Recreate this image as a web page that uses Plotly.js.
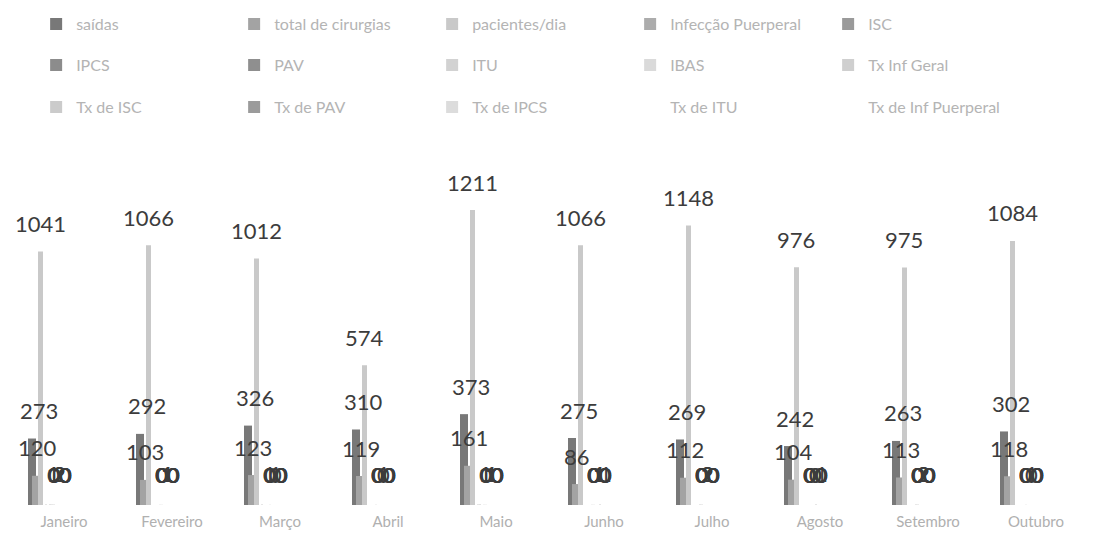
<!DOCTYPE html>
<html>
<head>
<meta charset="utf-8">
<script src="https://cdn.plot.ly/plotly-3.0.1.min.js"></script>
<style>html,body{margin:0;padding:0;background:#fff;}#chart{width:1095px;height:547px;}</style>
</head>
<body>
<div id="chart"></div>
<script>
// ---- data ----
const months = ['Janeiro','Fevereiro','Março','Abril','Maio','Junho','Julho','Agosto','Setembro','Outubro'];
const saidas = [273,292,326,310,373,275,269,242,263,302];
const totalCirurgias = [120,103,123,119,161,86,112,104,113,118];
const pacientesDia = [1041,1066,1012,574,1211,1066,1148,976,975,1084];
const infeccaoPuerperal = [0,0,0,0,0,0,0,0,0,0];
const isc = [1,0,1,0,1,0,0,0,0,0];
const ipcs = [0,0,0,0,1,0,0,0,0,0];
const pav = [1,0,0,0,0,0,0,0,0,0];
const itu = [2,1,0,1,1,1,2,0,2,0];
const ibas = [2,1,1,0,1,1,2,0,2,1];
const txInfGeral = [0,0,0,0,0,0,0,0,0,0];
const txIsc = [0,0,0,0,0,0,0,0,0,0];
const txPav = [0,0,0,0,0,1,0,1,0,0];
const txIpcs = [0,0,0,0,0,0,0,0,0,0];
const txItu = [0,0,0,0,0,0,0,0,0,0];
const txInfPuerperal = [0,0,0,0,0,0,0,0,0,0];

const CAT = 108; // px per category (approx)
function u(px){ return px / CAT; }

// series: name, values, color, legend, bar offset px, bar width px, label xshift px
const series = [
  {name:'saídas', y:saidas, color:'#787878', lg:'legend', off:-30, w:8, lx:-19},
  {name:'total de cirurgias', y:totalCirurgias, color:'#a3a3a3', lg:'legend', off:-26, w:8, lx:-21},
  {name:'pacientes/dia', y:pacientesDia, color:'#c9c9c9', lg:'legend', off:-20, w:5, lx:-18},
  {name:'Infecção Puerperal', y:infeccaoPuerperal, color:'#acacac', lg:'legend', off:-15, w:2, lx:6},
  {name:'ISC', y:isc, color:'#9a9a9a', lg:'legend', off:-13, w:2, lx:-5},
  {name:'IPCS', y:ipcs, color:'#8c8c8c', lg:'legend2', off:-11, w:2, lx:-5},
  {name:'PAV', y:pav, color:'#8f8f8f', lg:'legend2', off:-9, w:2, lx:-5},
  {name:'ITU', y:itu, color:'#d2d2d2', lg:'legend2', off:-7, w:2, lx:1},
  {name:'IBAS', y:ibas, color:'#dadada', lg:'legend2', off:-5, w:2, lx:1},
  {name:'Tx Inf Geral', y:txInfGeral, color:'#cfcfcf', lg:'legend2', off:-3, w:2, lx:-4},
  {name:'Tx de ISC', y:txIsc, color:'#cbcbcb', lg:'legend3', off:-1, w:2, lx:-4},
  {name:'Tx de PAV', y:txPav, color:'#9b9b9b', lg:'legend3', off:1, w:2, lx:7},
  {name:'Tx de IPCS', y:txIpcs, color:'#dcdcdc', lg:'legend3', off:3, w:2, lx:7},
  {name:'Tx de ITU', y:txItu, color:'#ffffff', lg:'legend3', off:5, w:2, lx:7},
  {name:'Tx de Inf Puerperal', y:txInfPuerperal, color:'#ffffff', lg:'legend3', off:7, w:2, lx:7}
];

const traces = series.map(s => ({
  type:'bar', name:s.name, x:months, y:s.y,
  offset:u(s.off), width:u(s.w),
  marker:{color:s.color, line:{width:0}},
  legend:s.lg, hoverinfo:'x+y+name'
}));

const annotations = [];
// draw the near-zero labels first, the big values last
const order = series.slice(3).concat(series.slice(0, 3));
order.forEach(s => {
  s.y.forEach((v, i) => {
    annotations.push({
      x: months[i], y: v, xref:'x', yref:'y',
      text: String(v), showarrow:false,
      xanchor:'center', yanchor:'middle',
      xshift: s.lx, yshift: s.w >= 5 ? 28 : 31,
      font:{family:'Lato, Carlito, sans-serif', size:22, color:'#3c3c3c'}
    });
  });
});

const legendBase = {
  orientation:'h', xref:'container', yref:'container',
  xanchor:'left', yanchor:'middle', x:0.033,
  entrywidth:153, entrywidthmode:'pixels', itemwidth:30,
  bgcolor:'rgba(0,0,0,0)',
  font:{family:'Lato, sans-serif', size:16, color:'#b4b4b4'}
};

const layout = {
  width:1095, height:547,
  margin:{l:4, r:11, t:164, b:42},
  paper_bgcolor:'#ffffff', plot_bgcolor:'#ffffff',
  showlegend:true,
  legend:Object.assign({}, legendBase, {y:1 - 24/547}),
  legend2:Object.assign({}, legendBase, {y:1 - 65/547}),
  legend3:Object.assign({}, legendBase, {y:1 - 107/547}),
  barmode:'overlay',
  xaxis:{type:'category', showgrid:false, zeroline:false, showline:false, ticks:'',
         tickfont:{family:'Lato, sans-serif', size:15, color:'#b0b0b0'},
         ticklabelstandoff:6, ticklabelshift:6},
  yaxis:{range:[0,1400], visible:false, showgrid:false, zeroline:false},
  annotations:annotations
};

Plotly.newPlot('chart', traces, layout, {displayModeBar:false, staticPlot:true});
</script>
</body>
</html>
